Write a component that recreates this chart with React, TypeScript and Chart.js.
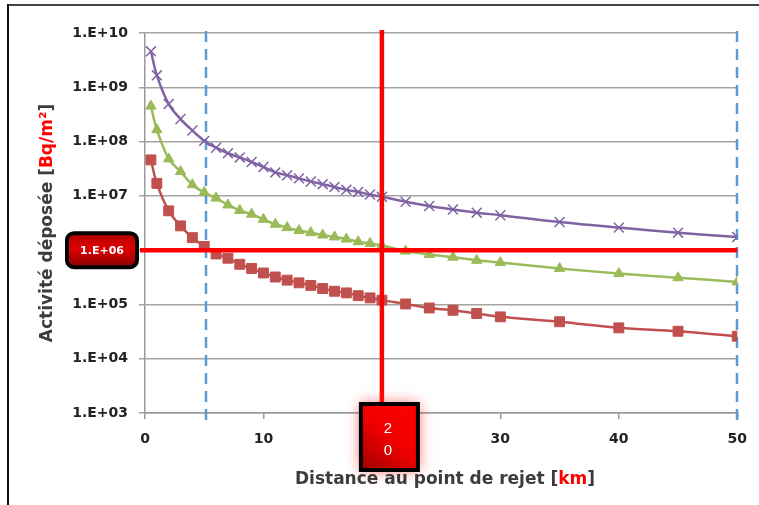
import React, { useEffect, useRef } from "react";
import { Chart, registerables } from "chart.js";

Chart.register(...registerables);

// ---- data ----
const distances = [0.5, 1, 2, 3, 4, 5, 6, 7, 8, 9, 10, 11, 12, 13, 14, 15, 16, 17, 18, 19, 20, 22, 24, 26, 28, 30, 35, 40, 45, 50];
const seriesPurple = [4.6e9, 1.66e9, 4.9e8, 2.6e8, 1.6e8, 1.03e8, 7.7e7, 6.1e7, 5.1e7, 4.2e7, 3.4e7, 2.7e7, 2.4e7, 2.1e7, 1.84e7, 1.64e7, 1.46e7, 1.29e7, 1.18e7, 1.06e7, 9.6e6, 7.8e6, 6.5e6, 5.6e6, 4.9e6, 4.4e6, 3.3e6, 2.6e6, 2.1e6, 1.74e6];
const seriesGreen = [4.5e8, 1.65e8, 4.8e7, 2.8e7, 1.6e7, 1.15e7, 9.1e6, 6.8e6, 5.4e6, 4.6e6, 3.7e6, 3.0e6, 2.6e6, 2.3e6, 2.1e6, 1.9e6, 1.75e6, 1.6e6, 1.43e6, 1.33e6, 1.22e6, 9.6e5, 8.3e5, 7.4e5, 6.5e5, 5.9e5, 4.6e5, 3.7e5, 3.1e5, 2.6e5];
const seriesRed = [4.6e7, 1.7e7, 5.3e6, 2.8e6, 1.7e6, 1.17e6, 8.5e5, 7.1e5, 5.5e5, 4.6e5, 3.8e5, 3.2e5, 2.8e5, 2.5e5, 2.24e5, 1.96e5, 1.75e5, 1.63e5, 1.45e5, 1.32e5, 1.2e5, 1.02e5, 8.6e4, 7.8e4, 6.8e4, 5.9e4, 4.8e4, 3.7e4, 3.2e4, 2.6e4];
const yTickValues = [1e3, 1e4, 1e5, 1e6, 1e7, 1e8, 1e9, 1e10];
const yTickLabels = ["1.E+03", "1.E+04", "1.E+05", "1.E+06", "1.E+07", "1.E+08", "1.E+09", "1.E+10"];
const xTickStep = 10;
const xMin = 0;
const xMax = 50;
const dashedDistances = [5.15, 50];
const markedDistance = 20;
const markedLevel = 1e6;
const markedLevelLabel = "1.E+06";
const markedDistanceDigits = ["2", "0"];
const yTitleParts = ["Activité déposée [", "Bq/m²", "]"];
const xTitleParts = ["Distance au point de rejet [", "km", "]"];

const DARK = "#3c3c3c";
const RED = "#ff0000";
const TITLE_FONT = "bold 17px 'DejaVu Sans'";

function drawParts(ctx: CanvasRenderingContext2D, parts: string[], cx: number, cy: number) {
  ctx.font = TITLE_FONT;
  ctx.textBaseline = "middle";
  ctx.textAlign = "left";
  const widths = parts.map((p) => ctx.measureText(p).width);
  const total = widths.reduce((a, b) => a + b, 0);
  let x = cx - total / 2;
  parts.forEach((p, i) => {
    ctx.fillStyle = i === 1 ? RED : DARK;
    ctx.fillText(p, x, cy);
    x += widths[i];
  });
}

const overlayPlugin = {
  id: "overlay",
  beforeDatasetsDraw(chart: any) {
    const { ctx, chartArea, scales } = chart;
    ctx.save();
    ctx.strokeStyle = "#5b9bd5";
    ctx.lineWidth = 2.5;
    ctx.setLineDash([11, 7]);
    dashedDistances.forEach((d) => {
      const x = Math.round(scales.x.getPixelForValue(d));
      ctx.beginPath();
      ctx.moveTo(x, chartArea.top - 2);
      ctx.lineTo(x, chartArea.bottom + 13);
      ctx.stroke();
    });
    ctx.restore();
  },
  afterDraw(chart: any) {
    const { ctx, chartArea, scales } = chart;
    const yL = scales.y.getPixelForValue(markedLevel);
    const xD = scales.x.getPixelForValue(markedDistance);
    ctx.save();
    // red lines
    ctx.strokeStyle = RED;
    ctx.lineWidth = 4.5;
    ctx.beginPath();
    ctx.moveTo(chartArea.left - 5, yL);
    ctx.lineTo(chartArea.right, yL);
    ctx.stroke();
    ctx.beginPath();
    ctx.moveTo(xD, chartArea.top - 3);
    ctx.lineTo(xD, chartArea.bottom - 8);
    ctx.stroke();

    // level box
    const bx = 67, by = yL - 17, bw = 70, bh = 34;
    let g = ctx.createLinearGradient(0, by, 0, by + bh);
    g.addColorStop(0, "#b00000");
    g.addColorStop(0.45, "#e00000");
    g.addColorStop(1, "#8a0000");
    ctx.fillStyle = g;
    ctx.strokeStyle = "#000";
    ctx.lineWidth = 4;
    ctx.beginPath();
    ctx.roundRect(bx, by, bw, bh, 7);
    ctx.fill();
    ctx.stroke();
    ctx.fillStyle = "#fff";
    ctx.font = "bold 11px 'DejaVu Sans'";
    ctx.textAlign = "center";
    ctx.textBaseline = "middle";
    ctx.fillText(markedLevelLabel, bx + bw / 2, by + bh / 2 + 0.5);

    // distance box with glow
    const dx = xD - 21, dy = chartArea.bottom - 9, dw = 57, dh = 66;
    ctx.save();
    ctx.shadowColor = "rgba(255,40,40,0.75)";
    ctx.shadowBlur = 14;
    g = ctx.createLinearGradient(dx, dy + dh, dx + dw, dy);
    g.addColorStop(0, "#a00000");
    g.addColorStop(0.5, "#f00000");
    g.addColorStop(1, "#ff0000");
    ctx.fillStyle = g;
    ctx.beginPath();
    ctx.rect(dx, dy, dw, dh);
    ctx.fill();
    ctx.restore();
    ctx.strokeStyle = "#000";
    ctx.lineWidth = 4;
    ctx.strokeRect(dx, dy, dw, dh);
    ctx.fillStyle = "#fff";
    ctx.font = "15px 'Liberation Sans'";
    ctx.textAlign = "center";
    ctx.textBaseline = "middle";
    ctx.fillText(markedDistanceDigits[0], xD + 6, dy + 25);
    ctx.fillText(markedDistanceDigits[1], xD + 6, dy + 47);

    // axis titles
    drawParts(ctx, xTitleParts, 445, 480);
    ctx.save();
    ctx.translate(48, 223);
    ctx.rotate(-Math.PI / 2);
    drawParts(ctx, yTitleParts, 0, 0);
    ctx.restore();

    // frame
    ctx.strokeStyle = "#444";
    ctx.lineWidth = 2;
    ctx.beginPath();
    ctx.moveTo(8, 5);
    ctx.lineTo(759, 5);
    ctx.stroke();
    ctx.strokeStyle = "#111";
    ctx.beginPath();
    ctx.moveTo(8, 4);
    ctx.lineTo(8, 505);
    ctx.stroke();
    ctx.restore();
  },
};

export default function App() {
  const ref = useRef<HTMLCanvasElement | null>(null);
  useEffect(() => {
    if (!ref.current) return;
    const tickFont = { family: "'DejaVu Sans'", size: 14, weight: "bold" as const };
    const chart = new Chart(ref.current, {
      type: "line",
      data: {
        datasets: [
          {
            data: distances.map((d, i) => ({ x: d, y: seriesPurple[i] })),
            borderColor: "#7f63a3",
            backgroundColor: "#7f63a3",
            borderWidth: 2.5,
            pointStyle: "crossRot",
            pointRadius: 7,
            pointBorderWidth: 1.5,
            tension: 0.35,
          },
          {
            data: distances.map((d, i) => ({ x: d, y: seriesGreen[i] })),
            borderColor: "#9bbb59",
            backgroundColor: "#9bbb59",
            borderWidth: 2.5,
            pointStyle: "triangle",
            pointRadius: 6,
            pointBorderWidth: 1,
            tension: 0.35,
          },
          {
            data: distances.map((d, i) => ({ x: d, y: seriesRed[i] })),
            borderColor: "#c0504d",
            backgroundColor: "#c0504d",
            borderWidth: 2.5,
            pointStyle: "rect",
            pointRadius: 7,
            pointBorderWidth: 1,
            tension: 0.35,
          },
        ],
      },
      options: {
        responsive: false,
        animation: false,
        devicePixelRatio: 1,
        layout: { padding: { left: 0, right: 19, top: 33, bottom: 0 } },
        plugins: { legend: { display: false }, tooltip: { enabled: false } },
        scales: {
          x: {
            type: "linear",
            min: xMin,
            max: xMax,
            ticks: { stepSize: xTickStep, font: tickFont, color: "#222", padding: 12, maxRotation: 0 },
            grid: { drawOnChartArea: false, drawTicks: true, tickLength: 6, color: "#9a9a9a", lineWidth: 1.5 },
            border: { color: "#9a9a9a", width: 1.5 },
            afterFit: (s: any) => { s.height = 92; },
          },
          y: {
            type: "logarithmic",
            min: yTickValues[0],
            max: yTickValues[yTickValues.length - 1],
            afterBuildTicks: (s: any) => { s.ticks = yTickValues.map((v) => ({ value: v, major: true })); },
            ticks: {
              font: tickFont,
              color: "#222",
              padding: 11,
              callback: (v: any) => {
                const i = yTickValues.indexOf(Number(v));
                return i >= 0 ? yTickLabels[i] : "";
              },
            },
            grid: { color: "#a3a3a3", lineWidth: 1.5, tickLength: 6 },
            border: { color: "#9a9a9a", width: 1.5 },
            afterFit: (s: any) => { s.width = 145; },
          },
        },
      },
      plugins: [overlayPlugin],
    });
    return () => chart.destroy();
  }, []);
  return (
    <div style={{ position: "fixed", left: 0, top: 0, width: 759, height: 505, background: "#fff" }}>
      <canvas ref={ref} width={759} height={505} style={{ width: 759, height: 505, display: "block" }} />
    </div>
  );
}
